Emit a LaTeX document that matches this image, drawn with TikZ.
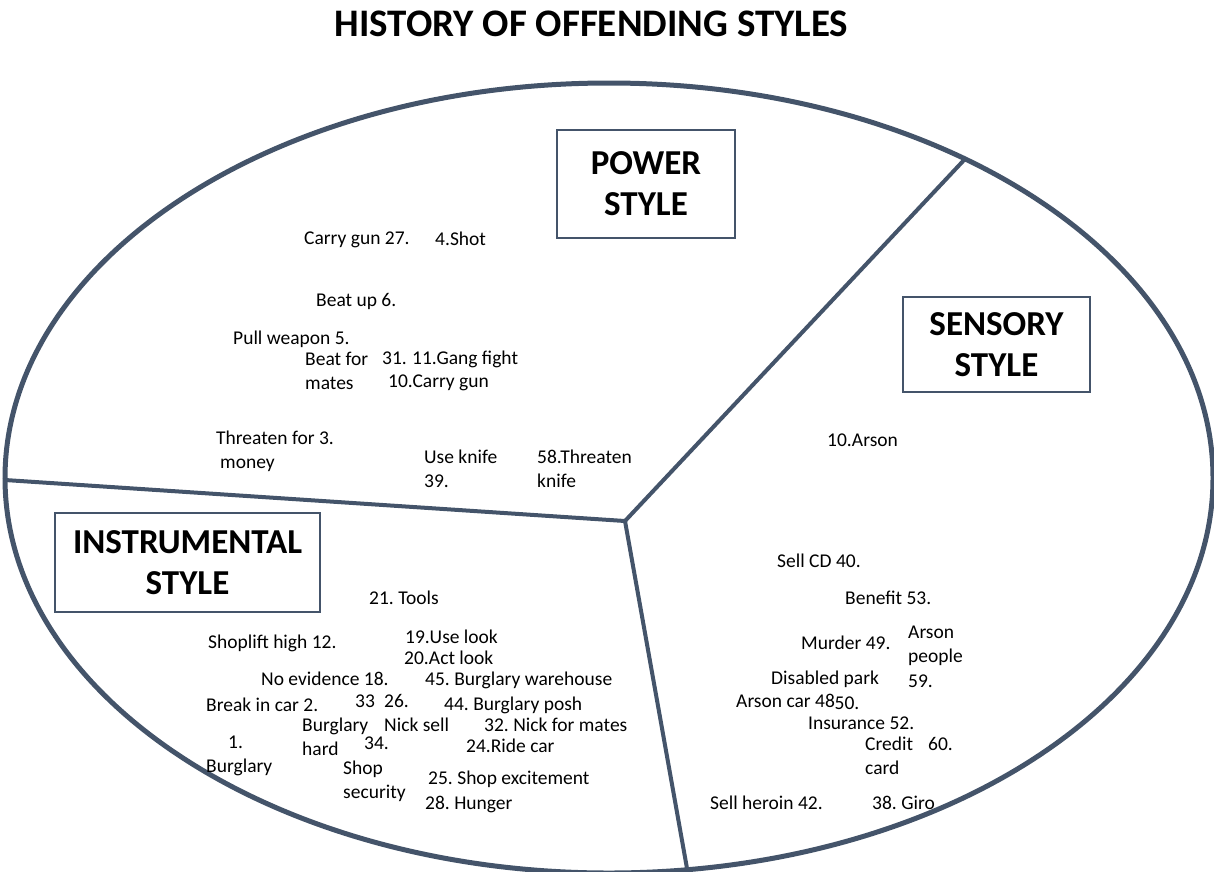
\documentclass[tikz,border=0pt]{standalone}
\usepackage{fontspec}
\setmainfont{Carlito}
\frenchspacing
\definecolor{slate}{HTML}{44546A}
\begin{document}
\begin{tikzpicture}[x=1pt,y=-1pt,
  lbl/.style={anchor=base west,inner sep=0pt,align=left,
    font=\fontsize{19.5}{24.5}\selectfont},
  stylebox/.style={draw=slate,line width=1.3pt,fill=white,align=center,
    inner sep=0pt,font=\bfseries\fontsize{35}{41}\selectfont},
  divider/.style={draw=slate,line width=4pt,line cap=round}]
\useasboundingbox (0,0) rectangle (1214,871);

% title
\node[anchor=base,inner sep=0pt,font=\bfseries\fontsize{39}{44}\selectfont]
  (title) at (591.5,36) {HISTORY OF OFFENDING STYLES};

% outer ellipse and the three sector dividers
\draw[slate,line width=5pt] (609,478) ellipse [x radius=604,y radius=395];
\coordinate (hub) at (625,521);
\coordinate (rimR) at (965,159);
\coordinate (rimL) at (5,480);
\coordinate (rimB) at (688,874);
\draw[divider] (hub) -- (rimR);
\draw[divider] (hub) -- (rimL);
\draw[divider] (hub) -- (rimB);

% style boxes
\node[stylebox,minimum width=178,minimum height=108] (power) at (646,184) {POWER\\STYLE};
\node[stylebox,minimum width=187,minimum height=95] (sensory) at (996.5,344.5) {SENSORY\\STYLE};
\node[stylebox,minimum width=265,minimum height=99] (instr) at (187.5,562.5) {INSTRUMENTAL\\STYLE};

% power style items (multi-line items are placed by their last baseline)
\node[lbl] (p1) at (304,244) {Carry gun 27.};
\node[lbl] (p2) at (435,245) {4.Shot};
\node[lbl] (p3) at (316,306) {Beat up 6.};
\node[lbl] (p4) at (233,344) {Pull weapon 5.};
\node[lbl] (p5) at (305,389.5) {Beat for\\mates};
\node[lbl] (p6) at (382,364) {31.};
\node[lbl] (p7) at (412,364) {11.Gang fight};
\node[lbl] (p8) at (388,387) {10.Carry gun};
\node[lbl] (p9) at (216,468.5) {Threaten for 3.\\\hspace{4pt}money};
\node[lbl] (p10) at (424,487.5) {Use knife\\39.};
\node[lbl] (p11) at (537,487.5) {58.Threaten\\knife};

% sensory style items
\node[lbl] (s1) at (827,446) {10.Arson};
\node[lbl] (s2) at (777,567) {Sell CD 40.};
\node[lbl] (s3) at (845,604) {Benefit 53.};
\node[lbl] (s4) at (801,649) {Murder 49.};
\node[lbl] (s5) at (908,687) {Arson\\people\\59.};
\node[lbl] (s6) at (771,684) {Disabled park};
\node[lbl] (s7) at (736,707) {Arson car 48};
\node[lbl] (s8) at (834.5,709) {50.};
\node[lbl] (s9) at (808,729) {Insurance 52.};
\node[lbl] (s10) at (865,774.5) {Credit\\card};
\node[lbl] (s11) at (928,750) {60.};
\node[lbl] (s12) at (710,809) {Sell heroin 42.};
\node[lbl] (s13) at (872,809) {38. Giro};

% instrumental style items
\node[lbl] (i1) at (369,604) {21. Tools};
\node[lbl] (i2) at (208,648) {Shoplift high 12.};
\node[lbl] (i3) at (405,643) {19.Use look};
\node[lbl] (i4) at (404,664) {20.Act look};
\node[lbl] (i5) at (261,685) {No evidence 18.};
\node[lbl] (i6) at (425,685) {45. Burglary warehouse};
\node[lbl] (i7) at (206,711) {Break in car 2.};
\node[lbl] (i8) at (355,707) {33};
\node[lbl] (i9) at (384,707) {26.};
\node[lbl] (i10) at (444,710) {44. Burglary posh};
\node[lbl] (i11) at (302,755.5) {Burglary\\hard};
\node[lbl] (i12) at (384,731) {Nick sell};
\node[lbl] (i13) at (484,731) {32. Nick for mates};
\node[lbl] (i14) at (364,749) {34.};
\node[lbl] (i15) at (466,752) {24.Ride car};
\node[lbl] (i16) at (206,772.5) {\hspace{22pt}1.\\Burglary};
\node[lbl] (i17) at (343,798.5) {Shop\\security};
\node[lbl] (i18) at (428,784) {25. Shop excitement};
\node[lbl] (i19) at (425,809) {28. Hunger};
\end{tikzpicture}
\end{document}
